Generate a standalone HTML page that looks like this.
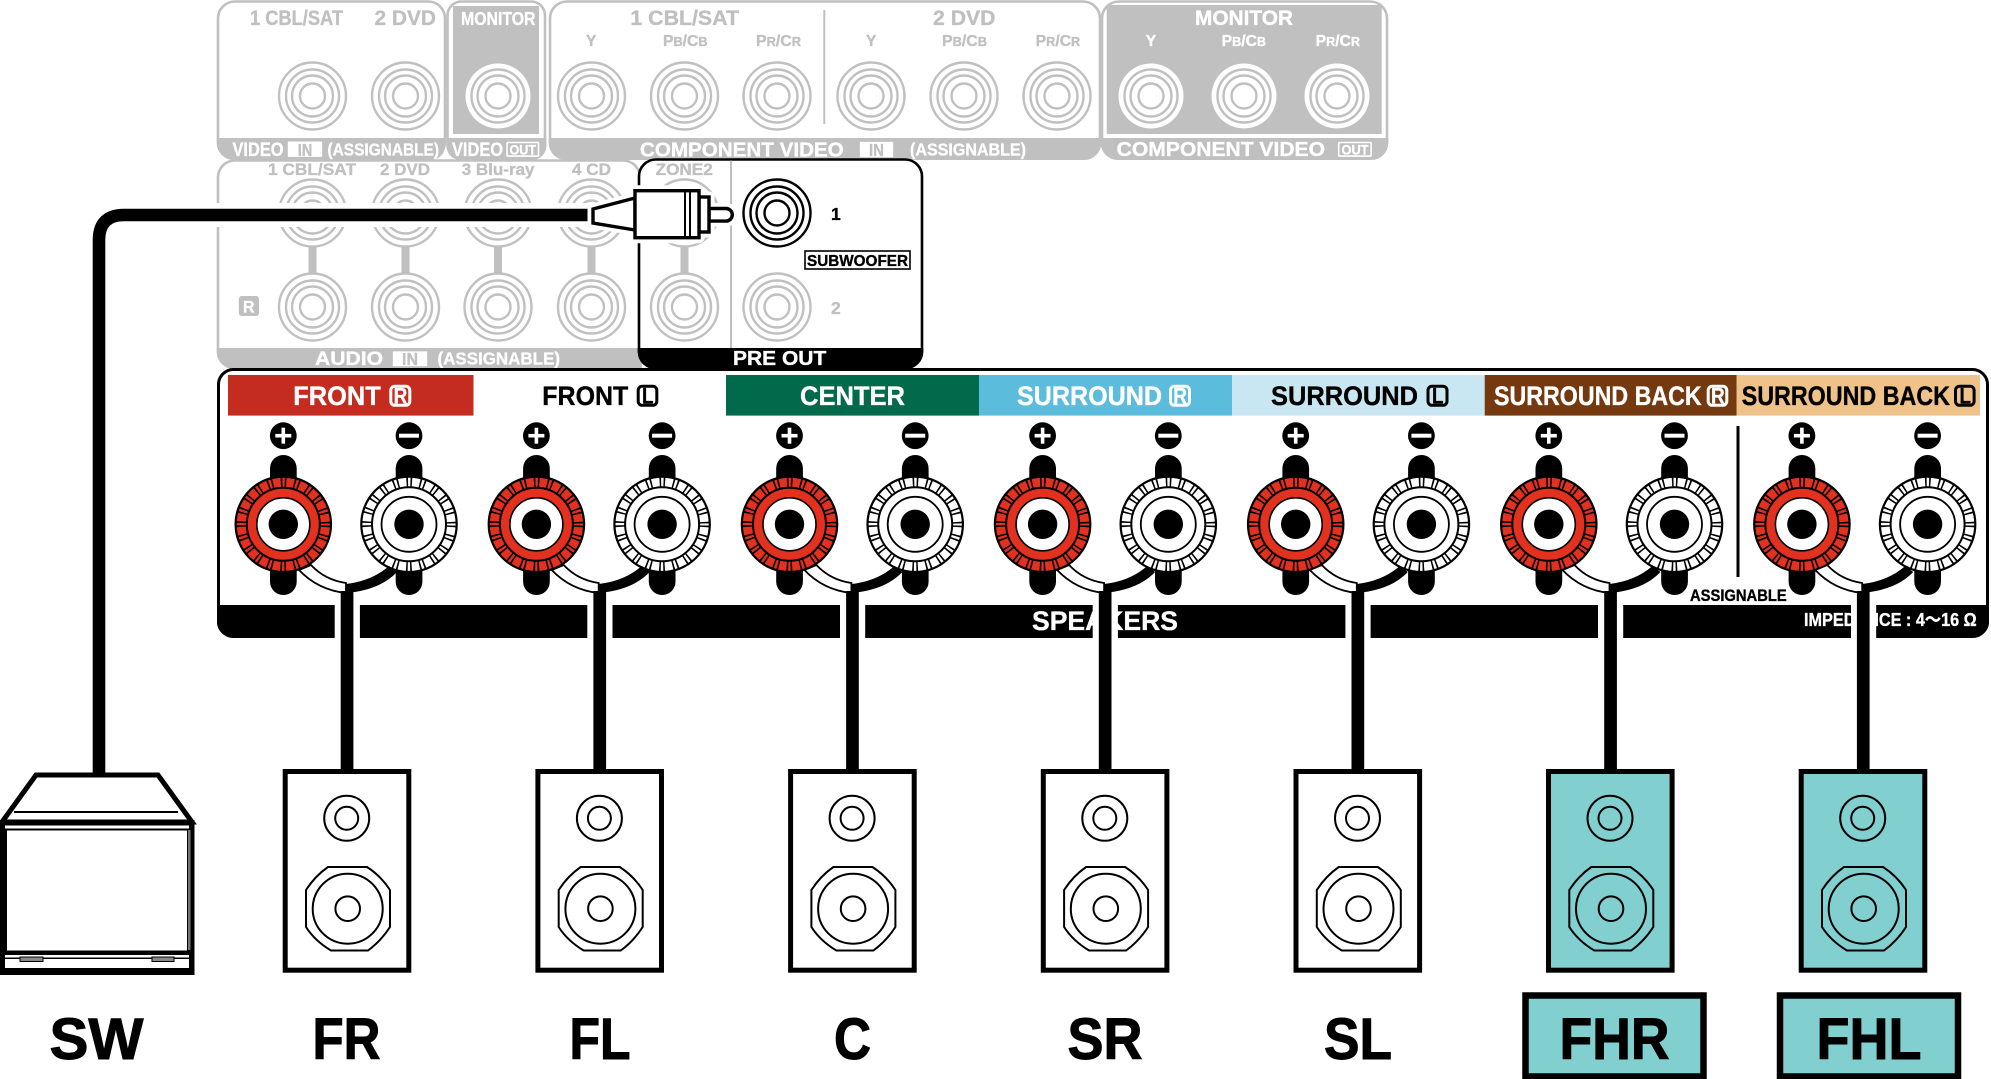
<!DOCTYPE html>
<html><head><meta charset="utf-8"><title>Speaker connection diagram</title>
<style>
html,body{margin:0;padding:0;background:#fff}
svg{display:block;position:absolute;left:0;top:0}
text{font-family:"Liberation Sans","Noto Sans CJK JP",sans-serif;font-weight:bold}
.g{fill:#c0c0c0;stroke:#c0c0c0;stroke-width:.35}
.w{fill:#fff;stroke:#fff;stroke-width:.35}
.k{fill:#000;stroke:#000;stroke-width:.35}
</style></head><body>
<svg xmlns="http://www.w3.org/2000/svg" width="1991" height="1079" viewBox="0 0 1991 1079">
<defs>
<g id="jg" fill="none" stroke="#c0c0c0" stroke-width="2.4"><circle r="33.5" fill="#fff"/><circle r="26.5"/><circle r="20.5"/><circle r="12.5"/></g>
<g id="jk" fill="none" stroke="#000" stroke-width="2.4"><circle r="33.5" fill="#fff"/><circle r="26.5"/><circle r="20.5"/><circle r="12.5"/></g>
<g id="jw" fill="none" stroke="#c0c0c0" stroke-width="2.4"><circle r="32.5" fill="#fff" stroke="none"/><circle r="26.5"/><circle r="20.5"/><circle r="12.5"/></g>
<g id="tr">
<rect x="-13.3" y="-69.3" width="26.7" height="140" rx="13.3" fill="#000"/>
<circle r="47.7" fill="#e2311f" stroke="#000" stroke-width="2.2"/>
<circle r="42" fill="none" stroke="#000" stroke-width="10.5" stroke-dasharray="1.6 2.4 1.6 7.59" stroke-dashoffset="2.8"/>
<circle r="36.5" fill="#e2311f" stroke="#000" stroke-width="2"/>
<circle r="26.5" fill="#fff" stroke="#000" stroke-width="1.6"/>
<circle r="14.7" fill="#000"/>
<circle cy="-88.6" r="13.4" fill="#000"/><rect x="-8" y="-90.4" width="16" height="3.6" fill="#fff"/><rect x="-1.8" y="-96.6" width="3.6" height="16" fill="#fff"/>
</g>
<g id="tw">
<rect x="-13.3" y="-69.3" width="26.7" height="140" rx="13.3" fill="#000"/>
<circle r="47.7" fill="#fff" stroke="#000" stroke-width="2.2"/>
<circle r="42" fill="none" stroke="#000" stroke-width="10.5" stroke-dasharray="1.6 2.4 1.6 7.59" stroke-dashoffset="2.8"/>
<circle r="37" fill="#fff" stroke="#000" stroke-width="2"/>
<circle r="27.5" fill="#fff" stroke="#000" stroke-width="1.8"/>
<circle r="14.7" fill="#000"/>
<circle cy="-88.6" r="13.4" fill="#000"/><rect x="-10" y="-90.6" width="20" height="4" fill="#fff"/>
</g>
<g id="pair"><use href="#tr" x="283.3" y="524.3"/><use href="#tw" x="409" y="524.3"/></g>
<g id="wire">
<path d="M389 566Q372 581 346 584V593Q380 590 397 572Z" fill="#000"/>
<path d="M311 565Q325 580 346 583V593Q318 590 299 570Z" fill="#fff" stroke="#000" stroke-width="1.8"/>
<rect x="340.7" y="591" width="12.7" height="181" fill="#000"/>
</g>
<g id="spk">
<rect x="285.2" y="771.5" width="123.6" height="198.7" stroke="#000" stroke-width="5"/>
<g fill="none" stroke="#000" stroke-width="2">
<circle cx="346.7" cy="818.3" r="22.5"/><circle cx="346.7" cy="818.3" r="11.5"/>
<path d="M328 867H367Q381 876 390 890V927Q381 941 368 950.5H331Q315 941 306 927V890Q315 876 328 867Z"/>
<circle cx="347.7" cy="908.7" r="35"/><circle cx="347.7" cy="908.7" r="12.3"/>
</g></g>
</defs>
<rect width="1991" height="1079" fill="#fff"/>

<!-- top panels -->
<g fill="#fff" stroke="#c0c0c0" stroke-width="2.6">
<rect x="218" y="1.5" width="227" height="157" rx="17"/>
<rect x="447.5" y="1.5" width="97.5" height="157" rx="14"/>
<rect x="550" y="1.5" width="550" height="157" rx="17"/>
<rect x="1102" y="1.5" width="285" height="157" rx="17"/>
<rect x="218" y="160.5" width="422" height="207" rx="17"/>
</g>
<g fill="#c0c0c0">
<path d="M216.7 138H445V146a14 14 0 0 1-14 14H233.7a17 17 0 0 1-17-17z"/>
<path d="M446.5 138H546.3V146a14 14 0 0 1-14 14H460.5a14 14 0 0 1-14-14z"/>
<path d="M548.7 138H1101.3V143a17 17 0 0 1-17 17H565.7a17 17 0 0 1-17-17z"/>
<path d="M1100.7 138H1388.3V143a17 17 0 0 1-17 17H1117.7a17 17 0 0 1-17-17z"/>
<path d="M216.7 348H642V369H233.7a17 17 0 0 1-17-17z"/>
<rect x="453" y="6" width="86" height="128"/>
<rect x="1106.7" y="5" width="275" height="129"/>
<rect x="823.3" y="10" width="2" height="114"/>
<rect x="238.8" y="296" width="20.2" height="20" rx="3"/>
<rect x="308.5" y="245" width="8" height="30"/><rect x="401.5" y="245" width="8" height="30"/><rect x="494" y="245" width="8" height="30"/><rect x="587.5" y="245" width="8" height="30"/>
</g>

<!-- top texts -->
<g class="g">
<text x="250" y="25" font-size="21" textLength="93" lengthAdjust="spacingAndGlyphs">1 CBL/SAT</text>
<text x="374.5" y="25" font-size="21" textLength="61.5" lengthAdjust="spacingAndGlyphs">2 DVD</text>
<text x="630.4" y="25" font-size="21" textLength="108.6" lengthAdjust="spacingAndGlyphs">1 CBL/SAT</text>
<text x="933" y="25" font-size="21" textLength="62.5" lengthAdjust="spacingAndGlyphs">2 DVD</text>
<text x="586" y="46" font-size="15.5">Y</text>
<text x="866" y="46" font-size="15.5">Y</text>
<text x="663" y="46" font-size="15.5" textLength="44.5" lengthAdjust="spacingAndGlyphs">P<tspan font-size="12.5">B</tspan>/C<tspan font-size="12.5">B</tspan></text>
<text x="756" y="46" font-size="15.5" textLength="45" lengthAdjust="spacingAndGlyphs">P<tspan font-size="12.5">R</tspan>/C<tspan font-size="12.5">R</tspan></text>
<text x="942" y="46" font-size="15.5" textLength="45" lengthAdjust="spacingAndGlyphs">P<tspan font-size="12.5">B</tspan>/C<tspan font-size="12.5">B</tspan></text>
<text x="1035.7" y="46" font-size="15.5" textLength="44.5" lengthAdjust="spacingAndGlyphs">P<tspan font-size="12.5">R</tspan>/C<tspan font-size="12.5">R</tspan></text>
<text x="268" y="175" font-size="17" textLength="88" lengthAdjust="spacingAndGlyphs">1 CBL/SAT</text>
<text x="380" y="175" font-size="17" textLength="50" lengthAdjust="spacingAndGlyphs">2 DVD</text>
<text x="461.7" y="175" font-size="17" textLength="72.8" lengthAdjust="spacingAndGlyphs">3 Blu-ray</text>
<text x="572" y="175" font-size="17" textLength="39" lengthAdjust="spacingAndGlyphs">4 CD</text>
</g>
<g class="w">
<text x="461" y="25" font-size="18.5" textLength="74.5" lengthAdjust="spacingAndGlyphs">MONITOR</text>
<text x="1195" y="25" font-size="21" textLength="98" lengthAdjust="spacingAndGlyphs">MONITOR</text>
<text x="1145.7" y="46" font-size="15.5">Y</text>
<text x="1221.7" y="46" font-size="15.5" textLength="44.3" lengthAdjust="spacingAndGlyphs">P<tspan font-size="12.5">B</tspan>/C<tspan font-size="12.5">B</tspan></text>
<text x="1315.7" y="46" font-size="15.5" textLength="44.3" lengthAdjust="spacingAndGlyphs">P<tspan font-size="12.5">R</tspan>/C<tspan font-size="12.5">R</tspan></text>
<text x="232.5" y="156" font-size="19.5" textLength="51" lengthAdjust="spacingAndGlyphs">VIDEO</text>
<text x="327.5" y="155.5" font-size="17.5" textLength="111.5" lengthAdjust="spacingAndGlyphs">(ASSIGNABLE)</text>
<text x="452" y="156" font-size="19.5" textLength="51" lengthAdjust="spacingAndGlyphs">VIDEO</text>
<text x="640" y="156.5" font-size="20" textLength="203.7" lengthAdjust="spacingAndGlyphs">COMPONENT VIDEO</text>
<text x="910" y="155.5" font-size="17.5" textLength="116" lengthAdjust="spacingAndGlyphs">(ASSIGNABLE)</text>
<text x="1116.7" y="156" font-size="20.5" textLength="208.3" lengthAdjust="spacingAndGlyphs">COMPONENT VIDEO</text>
<text x="315" y="365" font-size="19.5" textLength="68" lengthAdjust="spacingAndGlyphs">AUDIO</text>
<text x="437.5" y="364.5" font-size="17.5" textLength="122.5" lengthAdjust="spacingAndGlyphs">(ASSIGNABLE)</text>
<text x="243" y="312.5" font-size="17" textLength="11.5" lengthAdjust="spacingAndGlyphs">R</text>
<rect x="288" y="141.7" width="34" height="15"/><rect x="860" y="142" width="33" height="15"/><rect x="393" y="351.5" width="34" height="14.5"/>
<g fill="none" stroke="#fff" stroke-width="1.6"><rect x="507" y="142.5" width="31.5" height="13.6" rx="1"/><rect x="1338.7" y="142.5" width="32.4" height="13.6" rx="1"/></g>
<text x="509.5" y="154.5" font-size="14" textLength="26.5" lengthAdjust="spacingAndGlyphs">OUT</text>
<text x="1341.5" y="154.5" font-size="14" textLength="27" lengthAdjust="spacingAndGlyphs">OUT</text>
</g>
<g class="g">
<text x="297.8" y="155.8" font-size="17.5" textLength="14.5" lengthAdjust="spacingAndGlyphs">IN</text>
<text x="869" y="155.8" font-size="17.5" textLength="15" lengthAdjust="spacingAndGlyphs">IN</text>
<text x="402" y="364.8" font-size="17.5" textLength="16" lengthAdjust="spacingAndGlyphs">IN</text>
</g>

<!-- gray jacks -->
<use href="#jg" x="312.5" y="96"/><use href="#jg" x="405.5" y="96"/><use href="#jw" x="498" y="96"/>
<use href="#jg" x="591.5" y="96"/><use href="#jg" x="684.5" y="96"/><use href="#jg" x="777" y="96"/>
<use href="#jg" x="871" y="96"/><use href="#jg" x="964" y="96"/><use href="#jg" x="1057" y="96"/>
<use href="#jw" x="1151" y="96"/><use href="#jw" x="1244" y="96"/><use href="#jw" x="1337" y="96"/>
<use href="#jg" x="312.5" y="213"/><use href="#jg" x="405.5" y="213"/><use href="#jg" x="498" y="213"/><use href="#jg" x="591.5" y="213"/>
<use href="#jg" x="312.5" y="307"/><use href="#jg" x="405.5" y="307"/><use href="#jg" x="498" y="307"/><use href="#jg" x="591.5" y="307"/>

<!-- pre out -->
<path d="M656 159.5H905a17 17 0 0 1 17 17V351a17 17 0 0 1-17 17H656a17 17 0 0 1-17-17V176.5a17 17 0 0 1 17-17z" fill="#fff" stroke="#000" stroke-width="2.6"/>
<path d="M637.7 348H923.3V352a17 17 0 0 1-17 17H654.7a17 17 0 0 1-17-17z" fill="#000"/>
<rect x="730" y="160.5" width="2" height="187.5" fill="#c0c0c0"/>
<rect x="680.5" y="245" width="8" height="30" fill="#c0c0c0"/>
<use href="#jg" x="684.5" y="213"/><use href="#jg" x="684.5" y="307"/><use href="#jg" x="777" y="307"/>
<use href="#jk" x="777" y="213"/>
<text x="655.6" y="175" font-size="17" class="g" textLength="57.2" lengthAdjust="spacingAndGlyphs">ZONE2</text>
<text x="831" y="220" font-size="17.5" class="k">1</text>
<rect x="805" y="251" width="105" height="18" fill="#fff" stroke="#000" stroke-width="1.6"/>
<text x="807" y="266" font-size="15.5" class="k" textLength="101" lengthAdjust="spacingAndGlyphs">SUBWOOFER</text>
<text x="831" y="314" font-size="17.5" class="g">2</text>
<text x="733" y="365" font-size="20" class="w" textLength="93.3" lengthAdjust="spacingAndGlyphs">PRE OUT</text>

<!-- SW cable + plug -->
<path d="M99 780V240Q99 215 124 215H596" fill="none" stroke="#fff" stroke-width="24"/>
<path d="M99 780V240Q99 215 124 215H596" fill="none" stroke="#000" stroke-width="12.6"/>
<g fill="#fff" stroke="#fff" stroke-width="11" stroke-linejoin="round">
<path d="M593 209L635 198V230L593 223Z"/><rect x="635" y="190.7" width="64" height="47"/><rect x="699" y="197" width="10" height="35"/><path d="M709 208.5H726a6.3 6.3 0 0 1 0 12.6H709Z"/>
</g>
<g fill="#fff" stroke="#000" stroke-width="3.4">
<path d="M593 209L635 198V230L593 223Z"/>
<path d="M709 208.5H726a6.3 6.3 0 0 1 0 12.6H709Z"/>
<rect x="699" y="197" width="10" height="35"/>
<rect x="635" y="190.7" width="64" height="47"/>
<path d="M685 191V238M690 191V238" fill="none" stroke-width="2"/>
</g>

<!-- speaker panel -->
<rect x="218.5" y="369.5" width="1769" height="267" rx="15" fill="#fff" stroke="#000" stroke-width="3"/>
<path d="M217 605H1989V622a15 15 0 0 1-15 15H232a15 15 0 0 1-15-15z" fill="#000"/>
<rect x="228" y="375" width="245.5" height="40.6" fill="#c42c20"/>
<rect x="726" y="375" width="253" height="40.6" fill="#006a4a"/>
<rect x="979" y="375" width="253" height="40.6" fill="#5bbcdc"/>
<rect x="1232" y="375" width="252.7" height="40.6" fill="#c9e7f2"/>
<rect x="1484.7" y="375" width="252" height="40.6" fill="#74390f"/>
<rect x="1736.7" y="375" width="243.3" height="40.6" fill="#efc28a"/>
<g font-size="27">
<text x="293.3" y="405" class="w" textLength="87.4" lengthAdjust="spacingAndGlyphs">FRONT</text>
<text x="542.3" y="405" class="k" textLength="86" lengthAdjust="spacingAndGlyphs">FRONT</text>
<text x="800" y="405" class="w" textLength="105" lengthAdjust="spacingAndGlyphs">CENTER</text>
<text x="1017" y="405" class="w" textLength="145" lengthAdjust="spacingAndGlyphs">SURROUND</text>
<text x="1271" y="405" class="k" textLength="147" lengthAdjust="spacingAndGlyphs">SURROUND</text>
<text x="1494" y="405" class="w" textLength="207.7" lengthAdjust="spacingAndGlyphs">SURROUND BACK</text>
<text x="1741.7" y="405" class="k" textLength="208.3" lengthAdjust="spacingAndGlyphs">SURROUND BACK</text>
</g>
<g fill="none" stroke-width="3">
<rect x="390.8" y="386.3" width="19" height="19" rx="4" stroke="#fff"/>
<rect x="638.2" y="386.3" width="18.6" height="19" rx="4" stroke="#000"/>
<rect x="1170.5" y="386.3" width="19" height="19" rx="4" stroke="#fff"/>
<rect x="1428" y="386.3" width="19" height="19" rx="4" stroke="#000"/>
<rect x="1708.2" y="386.3" width="18.6" height="19" rx="4" stroke="#fff"/>
<rect x="1955.5" y="386.3" width="18.6" height="19" rx="4" stroke="#000"/>
</g>
<g font-size="22">
<text x="393.6" y="403.3" class="w" textLength="13.7" lengthAdjust="spacingAndGlyphs">R</text>
<text x="642" y="403.3" class="k" textLength="11.5" lengthAdjust="spacingAndGlyphs">L</text>
<text x="1173.3" y="403.3" class="w" textLength="13.7" lengthAdjust="spacingAndGlyphs">R</text>
<text x="1432" y="403.3" class="k" textLength="11.5" lengthAdjust="spacingAndGlyphs">L</text>
<text x="1711" y="403.3" class="w" textLength="13.7" lengthAdjust="spacingAndGlyphs">R</text>
<text x="1959.5" y="403.3" class="k" textLength="11.5" lengthAdjust="spacingAndGlyphs">L</text>
</g>
<rect x="1736.5" y="426" width="3" height="151" fill="#000"/>
<text x="1690" y="601" font-size="16.5" class="k" textLength="96.7" lengthAdjust="spacingAndGlyphs">ASSIGNABLE</text>
<text x="1032" y="630" font-size="27" class="w" textLength="146" lengthAdjust="spacingAndGlyphs">SPEAKERS</text>
<text x="1804" y="626" font-size="18" class="w" textLength="172.7" lengthAdjust="spacingAndGlyphs">IMPEDANCE : 4～16 Ω</text>
<g fill="#fff">
<rect x="334.7" y="603" width="25.2" height="36"/><rect x="587.3" y="603" width="25.2" height="36"/><rect x="840" y="603" width="25.2" height="36"/><rect x="1092.7" y="603" width="25.2" height="36"/><rect x="1345.4" y="603" width="25.2" height="36"/><rect x="1598" y="603" width="25.2" height="36"/><rect x="1851" y="603" width="25.2" height="36"/>
</g>

<!-- terminals -->
<use href="#pair"/><use href="#pair" x="253.1"/><use href="#pair" x="506.2"/><use href="#pair" x="759.3"/><use href="#pair" x="1012.4"/><use href="#pair" x="1265.5"/><use href="#pair" x="1518.6"/>
<use href="#wire"/><use href="#wire" x="252.7"/><use href="#wire" x="505.4"/><use href="#wire" x="758.1"/><use href="#wire" x="1010.8"/><use href="#wire" x="1263.5"/><use href="#wire" x="1516.2"/>

<!-- speakers -->
<g fill="#fff">
<use href="#spk"/><use href="#spk" x="252.7"/><use href="#spk" x="505.4"/><use href="#spk" x="758.1"/><use href="#spk" x="1010.8"/>
</g>
<g fill="#82cfcf"><use href="#spk" x="1263.3"/><use href="#spk" x="1516"/></g>

<!-- subwoofer -->
<path d="M36 775H158L192 822H2Z" fill="#fff" stroke="#000" stroke-width="5"/>
<rect x="14" y="811" width="164" height="2" fill="#000"/>
<rect x="0" y="820" width="194.5" height="155" fill="#000"/>
<rect x="5" y="825.5" width="184" height="3" fill="#fff"/>
<rect x="7" y="830.5" width="180" height="120" fill="#fff"/>
<rect x="188" y="830" width="2.5" height="120" fill="#777"/>
<rect x="5" y="955" width="184" height="2.5" fill="#fff"/>
<rect x="5" y="959" width="184" height="9" fill="#fff"/>
<rect x="20" y="957" width="23" height="4.5" fill="#888" stroke="#000" stroke-width="1"/>
<rect x="152" y="957" width="22" height="4.5" fill="#888" stroke="#000" stroke-width="1"/>

<!-- FH boxes -->
<rect x="1525.5" y="995.5" width="178" height="81" fill="#82cfcf" stroke="#000" stroke-width="6.5"/>
<rect x="1780" y="995.5" width="178" height="81" fill="#82cfcf" stroke="#000" stroke-width="6.5"/>

<!-- labels -->
<g font-size="58" fill="#000" stroke="#000" stroke-width="1">
<text x="49.5" y="1059" textLength="94" lengthAdjust="spacingAndGlyphs">SW</text>
<text x="312.5" y="1059" textLength="68" lengthAdjust="spacingAndGlyphs">FR</text>
<text x="569.5" y="1059" textLength="61" lengthAdjust="spacingAndGlyphs">FL</text>
<text x="834" y="1059" textLength="37" lengthAdjust="spacingAndGlyphs">C</text>
<text x="1067.5" y="1059" textLength="75" lengthAdjust="spacingAndGlyphs">SR</text>
<text x="1324" y="1059" textLength="68" lengthAdjust="spacingAndGlyphs">SL</text>
<text x="1559.5" y="1059" textLength="110" lengthAdjust="spacingAndGlyphs">FHR</text>
<text x="1816.5" y="1059" textLength="105" lengthAdjust="spacingAndGlyphs">FHL</text>
</g>
</svg>
</body></html>
